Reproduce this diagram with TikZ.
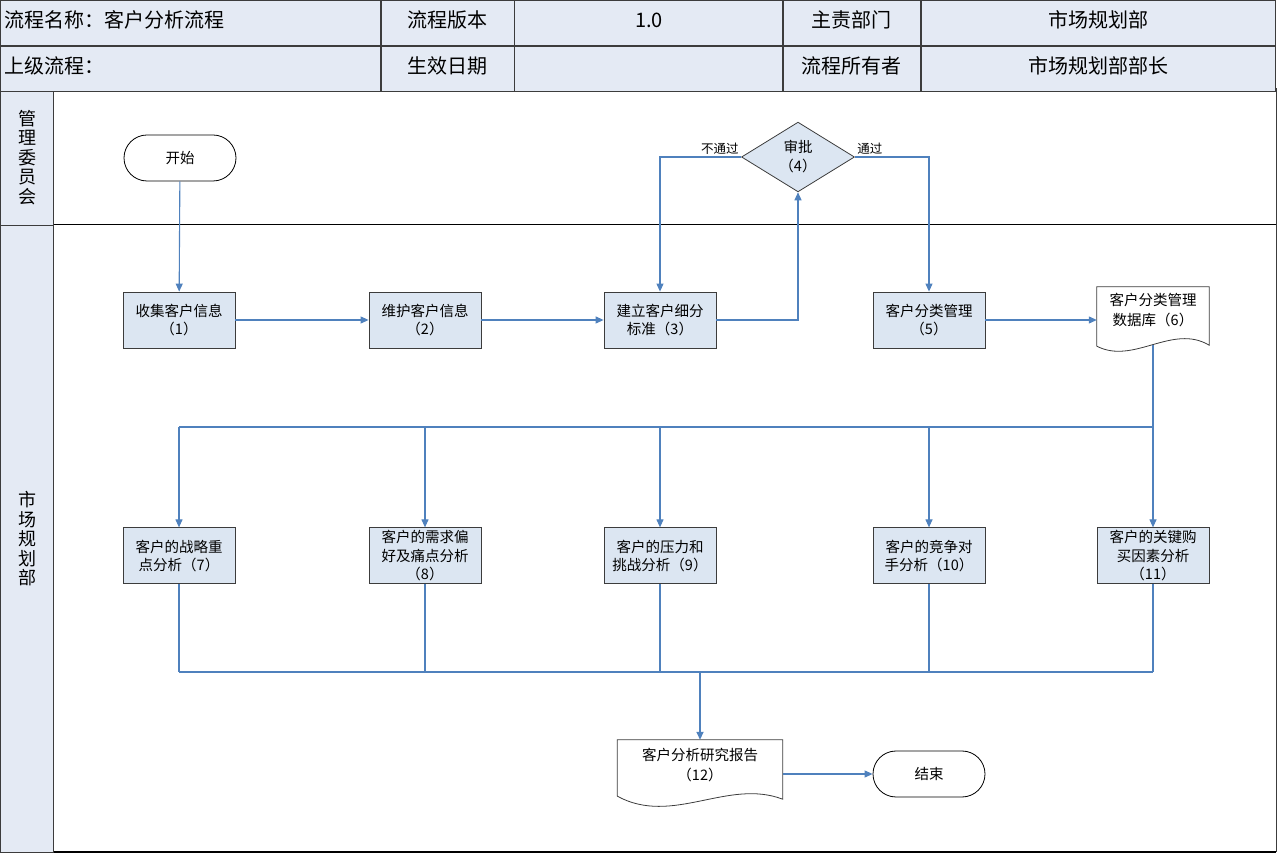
\documentclass[tikz,border=0pt]{standalone}
\usepackage{fontspec}
\setmainfont{Noto Sans CJK SC}
\usetikzlibrary{matrix, positioning, shapes.geometric, calc, arrows.meta}
\definecolor{hdrfill}{HTML}{E4EAF4}
\definecolor{boxfill}{HTML}{DCE6F2}
\definecolor{flowblue}{HTML}{4F81BD}
\definecolor{frame}{HTML}{3C3C3C}
\tikzset{
  layout/.style={
    matrix of nodes,
    inner sep=0pt,
    row sep=-\pgflinewidth,
    column sep=-\pgflinewidth,
    nodes={rectangle, draw=frame, fill=hdrfill, line width=1pt, align=center,
      font=\fontsize{20}{24}\selectfont, inner xsep=4pt, inner ysep=0pt,
      minimum height=45pt, text height=2.2ex, text depth=0.6ex},
    nodes in empty cells,
    column 1/.style={nodes={text width=372pt, align=left}},
    column 2/.style={nodes={text width=125pt}},
    column 3/.style={nodes={text width=260pt}},
    column 4/.style={nodes={text width=129pt}},
    column 5/.style={nodes={text width=346pt}},
  },
  lanehead/.style={
    rectangle, draw=frame, fill=hdrfill, line width=1pt, minimum width=53pt,
    align=center, font=\fontsize{18}{19.5}\selectfont
  },
  proc/.style={
    rectangle, draw=frame, fill=boxfill, line width=0.8pt,
    minimum width=112pt, minimum height=56pt, inner sep=2pt,
    align=center, font=\fontsize{14.5}{18.5}\selectfont
  },
  terminal/.style={
    rectangle, rounded corners=23pt, draw=black, fill=white, line width=0.8pt,
    minimum width=112pt, minimum height=46pt, font=\fontsize{14.5}{18.5}\selectfont
  },
  decide/.style={
    diamond, draw=frame, fill=boxfill, line width=0.8pt,
    minimum width=113pt, minimum height=66pt, inner sep=0pt,
    align=center, font=\fontsize{14.5}{19}\selectfont
  },
  doc/.style={
    % outline drawn afterwards
    minimum height=46pt, inner sep=2pt,
    align=center, font=\fontsize{14.5}{19.5}\selectfont
  },
  docline/.style={draw=frame, line width=0.8pt},
  link/.style={draw=flowblue, line width=1.1pt},
  flow/.style={link, -{Triangle[length=8pt, width=7pt]}},
  lbl/.style={font=\fontsize{12.5}{14}\selectfont, inner sep=2pt}
}

\begin{document}
\begin{tikzpicture}[x=1pt, y=1pt]
  \useasboundingbox (0,0) rectangle (1277,854);
  % swimlanes
  \draw[frame, line width=1pt] (53,765) rectangle (1276,2);
  \draw[black, line width=1pt] (0,629) -- (1276,629);
  \draw[black, line width=1.4pt] (0,2) -- (1276,2);
  \node[lanehead, minimum height=136pt, anchor=north west] (lane1) at (0,765) {管\\理\\委\\员\\会};
  \node[lanehead, minimum height=627pt, anchor=north west] (lane2) at (0,629) {市\\场\\规\\划\\部};
  % header table
  \matrix (head) [layout, anchor=north west] at (0,854) {
    流程名称：客户分析流程 & 流程版本 & 1.0 & 主责部门 & 市场规划部 \\
    上级流程： & 生效日期 & & 流程所有者 & 市场规划部部长 \\
  };

  % first row
  \node[terminal] (start) at (180,696) {开始};
  \node[proc] (s1) at (179,534) {收集客户信息\\（1）};
  \node[proc] (s2) at (425,534) {维护客户信息\\（2）};
  \node[proc] (s3) at (660,534) {建立客户细分\\标准（3）};
  \node[decide] (s4) at (798,697) {审批\\（4）};
  \node[proc] (s5) at (929,534) {客户分类管理\\（5）};
  \node[doc, minimum width=112pt] (d6) at (1153,544) {客户分类管理\\数据库（6）};
  \draw[docline] (d6.north west) -- ([yshift=-13pt]d6.south west)
    .. controls ([xshift=37pt, yshift=-32pt]d6.south west) and ([xshift=-37pt, yshift=10pt]d6.south east)
    .. ([yshift=-12pt]d6.south east) -- (d6.north east) -- cycle;

  % second row
  \node[proc, below=179pt of s1] (s7) {客户的战略重\\点分析（7）};
  \node[proc, below=179pt of s2] (s8) {客户的需求偏\\好及痛点分析\\（8）};
  \node[proc, below=179pt of s3] (s9) {客户的压力和\\挑战分析（9）};
  \node[proc, below=179pt of s5] (s10) {客户的竞争对\\手分析（10）};
  \node[proc] (s11) at (d6 |- s10) {客户的关键购\\买因素分析\\（11）};

  % report and end
  \node[doc, minimum width=165pt, minimum height=50pt] (d12) at (700,89) {客户分析研究报告\\（12）};
  \draw[docline] (d12.north west) -- ([yshift=-6pt]d12.south west)
    .. controls ([xshift=55pt, yshift=-36pt]d12.south west) and ([xshift=-55pt, yshift=12pt]d12.south east)
    .. ([yshift=-9pt]d12.south east) -- (d12.north east) -- cycle;
  \node[terminal] (end) at (929,80) {结束};

  \coordinate (d6-out) at ([yshift=-12pt]d6.south);
  \coordinate (split) at (d6-out |- 0,427);
  \coordinate (merge) at (700,182);

  % connectors
  \draw[flow] (start) -- (s1);
  \draw[flow] (s1) -- (s2);
  \draw[flow] (s2) -- (s3);
  \draw[flow] (s3.east) -| (s4.south);
  \draw[flow] (s4.west) node[lbl, above left] {不通过} -| (s3.north);
  \draw[flow] (s4.east) node[lbl, above right] {通过} -| (s5.north);
  \draw[flow] (s5.east) -- (d6.west |- s5.east);
  \draw[link] (d6-out) -- (split) -- (split -| s7);
  \foreach \n in {7,...,11}
    \draw[flow] (split -| s\n) -- (s\n.north);
  \foreach \n in {7,...,11}
    \draw[link] (s\n.south) -- (merge -| s\n);
  \draw[link] (merge -| s7) -- (merge -| s11);
  \draw[flow, line width=1.6pt] (merge) -- (d12.north);
  \draw[flow] (d12.east |- end) -- (end.west);
\end{tikzpicture}
\end{document}
